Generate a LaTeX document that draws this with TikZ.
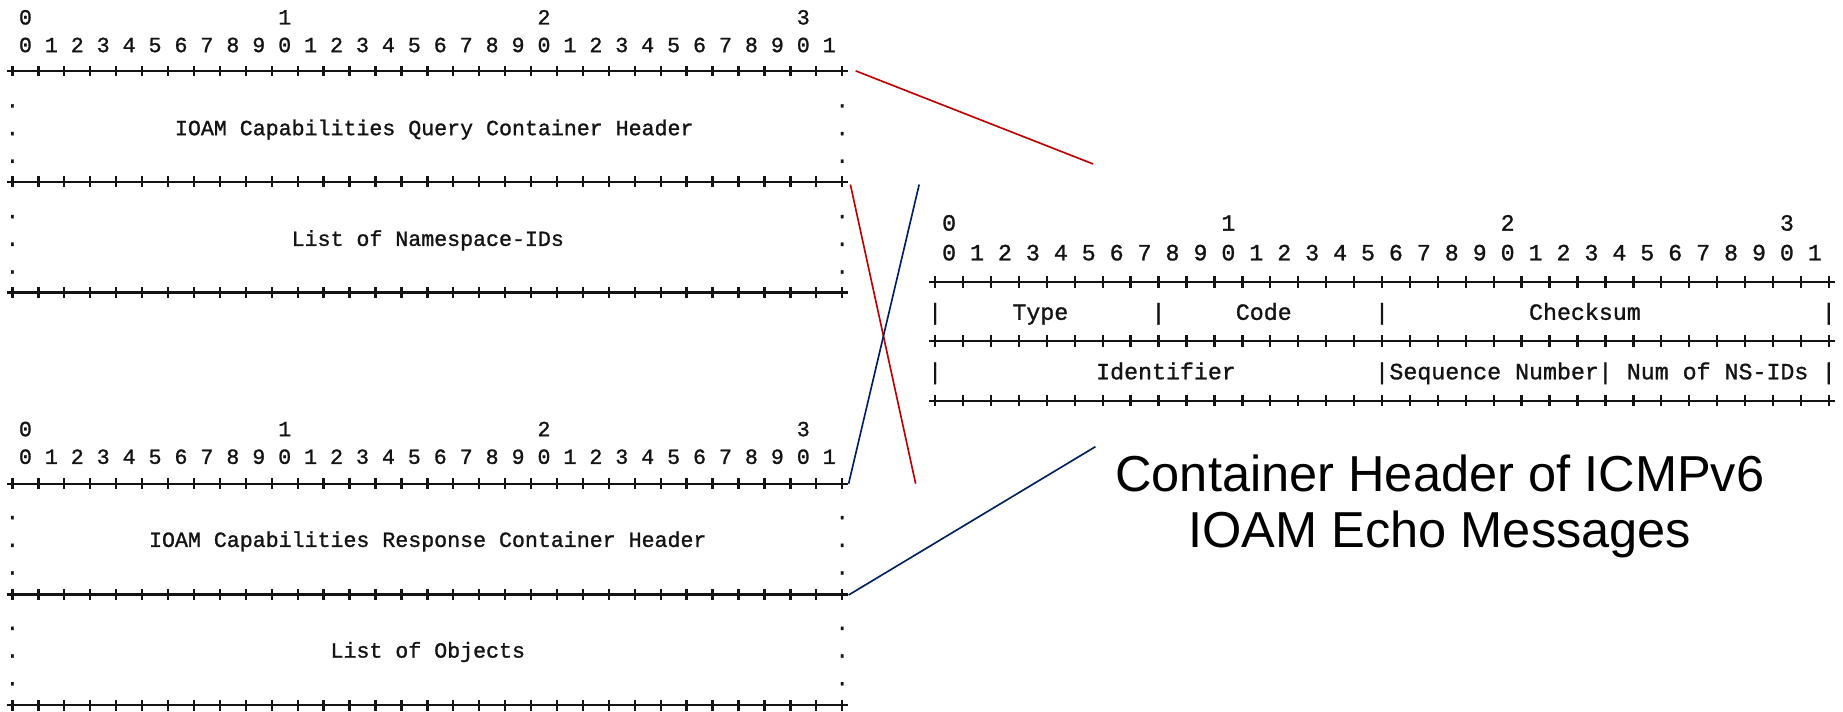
\documentclass[tikz,border=0pt]{standalone}
\usepackage{fontspec}
\setmainfont{Liberation Sans}
\newfontfamily\lmono[FakeBold=1.2]{Liberation Mono}
\definecolor{lred}{RGB}{192,0,0}
\definecolor{lblue}{RGB}{0,32,96}
\definecolor{ink}{RGB}{20,20,20}
\tikzset{
  lt/.style={font=\lmono\fontsize{9.19}{9.19}\selectfont, text=ink, inner sep=0pt, anchor=base},
  ltw/.style={lt, anchor=base west},
  rt/.style={font=\lmono\fontsize{9.9}{9.9}\selectfont, text=ink, inner sep=0pt, anchor=base},
  rtw/.style={rt, anchor=base west},
  bord/.style={line width=1pt, ink},
  redline/.style={line width=0.7pt, lred},
  blueline/.style={line width=0.7pt, lblue},
  captext/.style={font=\fontsize{21.5}{21.5}\selectfont, inner sep=0pt, anchor=base}
}
\begin{document}
\begin{tikzpicture}[x=0.5pt, y=-0.5pt]
\useasboundingbox (0,0) rectangle (1568,605);
\def\LX{10.6}\def\LP{11.03}
\def\RX{795.6}\def\RP{11.88}
\def\TG{13.3}\def\BG{364.5}\def\LS{23.55}
\def\TB{7.5}\def\BB{6.6}
\def\RG{189.1}\def\RS{25.3}\def\RB{7.1}
% headers (row 0)
\foreach \t/\c in {0/1,1/21,2/41,3/61} {
  \node[lt] (th\t) at ({\LX+\LP*\c}, {\TG+\TB}) {\t};
  \node[lt] (bh\t) at ({\LX+\LP*\c}, {\BG+\BB}) {\t};
  \node[rt] (rh\t) at ({\RX+\RP*\c}, {\RG+\RB}) {\t};
}
% bit digits (row 1)
\foreach \i in {0,...,31} {
  \pgfmathtruncatemacro\d{mod(\i,10)}
  \node[lt] (td\i) at ({\LX+\LP*(2*\i+1)}, {\TG+\LS+\TB}) {\d};
  \node[lt] (bd\i) at ({\LX+\LP*(2*\i+1)}, {\BG+\LS+\BB}) {\d};
  \node[rt] (rd\i) at ({\RX+\RP*(2*\i+1)}, {\RG+\RS+\RB}) {\d};
}
% left borders (rows 2, 6, 10)
\foreach \g in {\TG,\BG} {
  \foreach \r in {2,6,10} {
    \pgfmathsetmacro\y{\g+\LS*\r}
    \draw[bord] ({\LX-0.45*\LP}, \y) -- ({\LX+64.45*\LP}, \y);
    \foreach \k in {0,...,32} {
      \draw[bord] ({\LX+\LP*2*\k}, \y-4.6) -- ({\LX+\LP*2*\k}, \y+4.6);
    }
  }
}
% right borders (rows 2, 4, 6)
\foreach \r in {2,4,6} {
  \pgfmathsetmacro\y{\RG+\RS*\r}
  \draw[bord] ({\RX-0.45*\RP}, \y) -- ({\RX+64.45*\RP}, \y);
  \foreach \k in {0,...,32} {
    \draw[bord] ({\RX+\RP*2*\k}, \y-4.9) -- ({\RX+\RP*2*\k}, \y+4.9);
  }
}
% dots (rows 3-5, 7-9)
\foreach \r in {3,4,5,7,8,9} {
  \node[lt] (tdl\r) at ({\LX}, {\TG+\LS*\r+\TB}) {.};
  \node[lt] (tdr\r) at ({\LX+64*\LP}, {\TG+\LS*\r+\TB}) {.};
  \node[lt] (bdl\r) at ({\LX}, {\BG+\LS*\r+\BB}) {.};
  \node[lt] (bdr\r) at ({\LX+64*\LP}, {\BG+\LS*\r+\BB}) {.};
}
% left texts
\node[ltw] (qhdr) at ({\LX+\LP*12.5}, {\TG+\LS*4+\TB}) {IOAM Capabilities Query Container Header};
\node[ltw] (nsid) at ({\LX+\LP*21.5}, {\TG+\LS*8+\TB}) {List of Namespace-IDs};
\node[ltw] (rhdr) at ({\LX+\LP*10.5}, {\BG+\LS*4+\BB}) {IOAM Capabilities Response Container Header};
\node[ltw] (objs) at ({\LX+\LP*24.5}, {\BG+\LS*8+\BB}) {List of Objects};
% right rows 3 and 5
\foreach \c in {0,16,32,64} { \node[rt] (pa\c) at ({\RX+\RP*\c}, {\RG+\RS*3+\RB}) {|}; }
\foreach \c in {0,32,48,64} { \node[rt] (pb\c) at ({\RX+\RP*\c}, {\RG+\RS*5+\RB}) {|}; }
\node[rtw] (type) at ({\RX+\RP*5.5}, {\RG+\RS*3+\RB}) {Type};
\node[rtw] (code) at ({\RX+\RP*21.5}, {\RG+\RS*3+\RB}) {Code};
\node[rtw] (csum) at ({\RX+\RP*42.5}, {\RG+\RS*3+\RB}) {Checksum};
\node[rtw] (iden) at ({\RX+\RP*11.5}, {\RG+\RS*5+\RB}) {Identifier};
\node[rtw] (seqn) at ({\RX+\RP*32.5}, {\RG+\RS*5+\RB}) {Sequence Number};
\node[rtw] (nsnum) at ({\RX+\RP*49.5}, {\RG+\RS*5+\RB}) {Num of NS-IDs};
% connectors
\coordinate (qtop) at (728,60.3);
\coordinate (qend) at (930,139.5);
\coordinate (qbot) at (723.5,157);
\coordinate (rtopx) at (779,411.5);
\coordinate (xtop) at (782,157);
\coordinate (rtop) at (722,411.5);
\coordinate (rbot) at (722,506.2);
\coordinate (rend) at (932,380);
\draw[redline] (qtop) -- (qend);
\draw[redline] (qbot) -- (rtopx);
\draw[blueline] (xtop) -- (rtop);
\draw[blueline] (rbot) -- (rend);
% caption
\node[captext] (cap1) at (1225,417.8) {Container Header of ICMPv6};
\node[captext] (cap2) at (1225,466) {IOAM Echo Messages};
\end{tikzpicture}
\end{document}
